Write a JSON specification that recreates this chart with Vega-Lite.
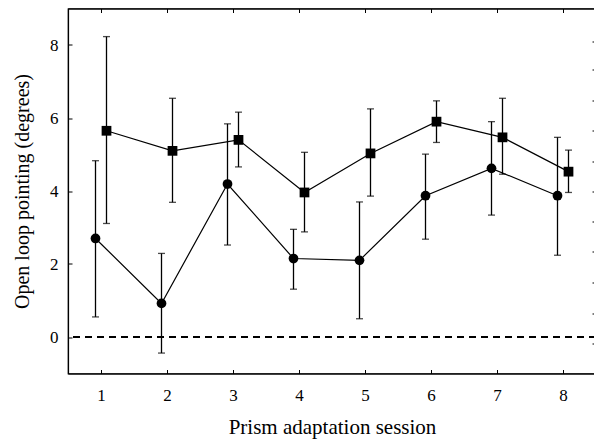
{
  "$schema": "https://vega.github.io/schema/vega-lite/v6.json",
  "width": 528,
  "height": 365,
  "autosize": {"type": "none"},
  "padding": {"left": 68, "top": 8.5, "right": 0, "bottom": 69},
  "background": "white",
  "config": {
    "font": "Liberation Serif",
    "view": {"stroke": "black", "strokeWidth": 1.2},
    "axis": {
      "grid": false,
      "domainColor": "black",
      "domainWidth": 1.2,
      "tickColor": "black",
      "tickWidth": 1,
      "tickSize": -4,
      "labelColor": "black",
      "labelFont": "Liberation Serif",
      "labelFontSize": 17,
      "titleColor": "black",
      "titleFont": "Liberation Serif",
      "titleFontSize": 20,
      "titleFontWeight": "normal"
    }
  },
  "data": {
    "values": [
      {"session": 1, "g": "A", "mean": 2.70, "lo": 0.55, "hi": 4.83},
      {"session": 2, "g": "A", "mean": 0.92, "lo": -0.44, "hi": 2.29},
      {"session": 3, "g": "A", "mean": 4.19, "lo": 2.52, "hi": 5.84},
      {"session": 4, "g": "A", "mean": 2.15, "lo": 1.31, "hi": 2.95},
      {"session": 5, "g": "A", "mean": 2.10, "lo": 0.50, "hi": 3.70},
      {"session": 6, "g": "A", "mean": 3.87, "lo": 2.68, "hi": 5.01},
      {"session": 7, "g": "A", "mean": 4.62, "lo": 3.34, "hi": 5.90},
      {"session": 8, "g": "A", "mean": 3.87, "lo": 2.24, "hi": 5.47},
      {"session": 1, "g": "B", "mean": 5.65, "lo": 3.11, "hi": 8.23},
      {"session": 2, "g": "B", "mean": 5.10, "lo": 3.69, "hi": 6.54},
      {"session": 3, "g": "B", "mean": 5.40, "lo": 4.66, "hi": 6.16},
      {"session": 4, "g": "B", "mean": 3.96, "lo": 2.88, "hi": 5.06},
      {"session": 5, "g": "B", "mean": 5.03, "lo": 3.86, "hi": 6.25},
      {"session": 6, "g": "B", "mean": 5.90, "lo": 5.33, "hi": 6.47},
      {"session": 7, "g": "B", "mean": 5.47, "lo": 4.46, "hi": 6.54},
      {"session": 8, "g": "B", "mean": 4.53, "lo": 3.96, "hi": 5.12}
    ]
  },
  "layer": [
    {
      "mark": {"type": "rule", "color": "black", "strokeWidth": 0.8, "strokeDash": [7, 5]},
      "encoding": {
        "y": {"datum": 0, "type": "quantitative", "scale": {"domain": [-1, 9], "nice": false, "zero": false}, "axis": null}
      }
    },
    {
      "transform": [{"filter": "datum.g === 'A'"}],
      "mark": {"type": "rule", "color": "black", "strokeWidth": 1.3, "xOffset": -5.5},
      "encoding": {
        "x": {"field": "session", "type": "quantitative", "scale": {"domain": [0.5, 8.5], "nice": false, "zero": false}, "axis": null},
        "y": {"field": "lo", "type": "quantitative", "axis": null},
        "y2": {"field": "hi"}
      }
    },
    {
      "transform": [{"filter": "datum.g === 'A'"}],
      "mark": {"type": "tick", "orient": "horizontal", "color": "black", "size": 7, "thickness": 1.3, "xOffset": -5.5},
      "encoding": {
        "x": {"field": "session", "type": "quantitative", "axis": null},
        "y": {"field": "lo", "type": "quantitative", "axis": null}
      }
    },
    {
      "transform": [{"filter": "datum.g === 'A'"}],
      "mark": {"type": "tick", "orient": "horizontal", "color": "black", "size": 7, "thickness": 1.3, "xOffset": -5.5},
      "encoding": {
        "x": {"field": "session", "type": "quantitative", "axis": null},
        "y": {"field": "hi", "type": "quantitative", "axis": null}
      }
    },
    {
      "transform": [{"filter": "datum.g === 'B'"}],
      "mark": {"type": "rule", "color": "black", "strokeWidth": 1.3, "xOffset": 5.5},
      "encoding": {
        "x": {"field": "session", "type": "quantitative", "axis": null},
        "y": {"field": "lo", "type": "quantitative", "axis": null},
        "y2": {"field": "hi"}
      }
    },
    {
      "transform": [{"filter": "datum.g === 'B'"}],
      "mark": {"type": "tick", "orient": "horizontal", "color": "black", "size": 7, "thickness": 1.3, "xOffset": 5.5},
      "encoding": {
        "x": {"field": "session", "type": "quantitative", "axis": null},
        "y": {"field": "lo", "type": "quantitative", "axis": null}
      }
    },
    {
      "transform": [{"filter": "datum.g === 'B'"}],
      "mark": {"type": "tick", "orient": "horizontal", "color": "black", "size": 7, "thickness": 1.3, "xOffset": 5.5},
      "encoding": {
        "x": {"field": "session", "type": "quantitative", "axis": null},
        "y": {"field": "hi", "type": "quantitative", "axis": null}
      }
    },
    {
      "transform": [{"filter": "datum.g === 'A'"}],
      "mark": {"type": "line", "color": "black", "strokeWidth": 1.2, "xOffset": -5.5},
      "encoding": {
        "x": {"field": "session", "type": "quantitative", "title": "Prism adaptation session",
              "axis": {"orient": "bottom", "values": [1, 2, 3, 4, 5, 6, 7, 8], "labelFont": "Liberation Serif", "labelFontSize": 17, "labelPadding": 18, "titlePadding": 13, "titleFontSize": 21}},
        "y": {"field": "mean", "type": "quantitative", "title": "Open loop pointing (degrees)",
              "axis": {"orient": "left", "values": [0, 2, 4, 6, 8], "labelFont": "Liberation Serif", "labelFontSize": 17, "labelPadding": 14, "titlePadding": 17}}
      }
    },
    {
      "transform": [{"filter": "datum.g === 'B'"}],
      "mark": {"type": "line", "color": "black", "strokeWidth": 1.2, "xOffset": 5.5},
      "encoding": {
        "x": {"field": "session", "type": "quantitative",
              "axis": {"orient": "top", "values": [1, 2, 3, 4, 5, 6, 7, 8], "labels": false, "title": null}},
        "y": {"field": "mean", "type": "quantitative",
              "axis": {"orient": "right", "values": [-0.18, 0.64, 1.48, 2.33, 3.16, 3.98, 4.8, 5.67, 6.49, 7.32, 8.09], "labels": false, "title": null}}
      }
    },
    {
      "transform": [{"filter": "datum.g === 'A'"}],
      "mark": {"type": "point", "shape": "circle", "filled": true, "opacity": 1, "color": "black", "size": 95, "xOffset": -5.5},
      "encoding": {
        "x": {"field": "session", "type": "quantitative", "axis": null},
        "y": {"field": "mean", "type": "quantitative", "axis": null}
      }
    },
    {
      "transform": [{"filter": "datum.g === 'B'"}],
      "mark": {"type": "point", "shape": "square", "filled": true, "opacity": 1, "color": "black", "size": 95, "xOffset": 5.5},
      "encoding": {
        "x": {"field": "session", "type": "quantitative", "axis": null},
        "y": {"field": "mean", "type": "quantitative", "axis": null}
      }
    }
  ],
  "resolve": {"axis": {"x": "independent", "y": "independent"}}
}
